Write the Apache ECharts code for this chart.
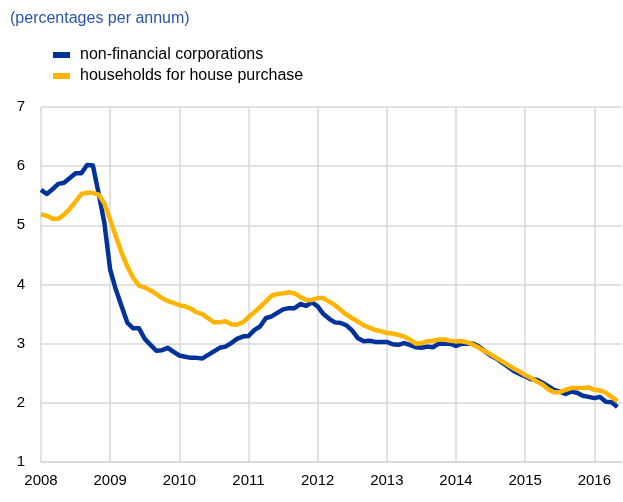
<!DOCTYPE html>
<html>
<head>
<meta charset="utf-8">
<script src="https://cdn.jsdelivr.net/npm/echarts@6/dist/echarts.min.js"></script>
<style>
  html, body { margin: 0; padding: 0; background: #fff; }
  #chart { width: 623px; height: 502px; }
</style>
</head>
<body>
<div id="chart"></div>
<script>
// monthly data, January 2008 to May 2016
var startYear = 2008;
var yTicks = [1, 2, 3, 4, 5, 6, 7];
var seriesNames = ['non-financial corporations', 'households for house purchase'];

var nfc = [
  5.60, 5.53, 5.61, 5.70, 5.72, 5.80, 5.88, 5.88, 6.02, 6.01, 5.54, 5.04,
  4.25, 3.91, 3.63, 3.35, 3.26, 3.26, 3.08, 2.98, 2.88, 2.89, 2.93, 2.86,
  2.80, 2.78, 2.76, 2.76, 2.75, 2.81, 2.87, 2.93, 2.95, 3.01, 3.08, 3.12,
  3.13, 3.23, 3.29, 3.43, 3.46, 3.52, 3.58, 3.60, 3.60, 3.67, 3.64, 3.70,
  3.63, 3.50, 3.42, 3.36, 3.35, 3.31, 3.22, 3.09, 3.04, 3.05, 3.03, 3.03,
  3.03, 2.99, 2.98, 3.01, 2.98, 2.94, 2.93, 2.95, 2.94, 3.00, 3.00, 3.00,
  2.96, 3.00, 3.00, 3.00, 2.95, 2.87, 2.80, 2.75, 2.68, 2.61, 2.54, 2.49,
  2.45, 2.40, 2.39, 2.34, 2.28, 2.22, 2.19, 2.15, 2.19, 2.17, 2.12, 2.10,
  2.08, 2.10, 2.02, 2.01, 1.93
];

var households = [
  5.19, 5.16, 5.11, 5.11, 5.18, 5.28, 5.40, 5.53, 5.55, 5.55, 5.52, 5.37,
  5.09, 4.81, 4.53, 4.30, 4.11, 3.98, 3.95, 3.90, 3.84, 3.77, 3.72, 3.69,
  3.65, 3.63, 3.59, 3.53, 3.50, 3.43, 3.36, 3.36, 3.38, 3.33, 3.32, 3.36,
  3.45, 3.53, 3.62, 3.71, 3.81, 3.84, 3.85, 3.87, 3.85, 3.79, 3.74, 3.74,
  3.77, 3.77, 3.71, 3.65, 3.57, 3.49, 3.43, 3.37, 3.31, 3.27, 3.23, 3.21,
  3.18, 3.17, 3.15, 3.12, 3.07, 3.00, 3.01, 3.04, 3.05, 3.07, 3.07, 3.05,
  3.04, 3.04, 3.02, 2.98, 2.93, 2.87, 2.82, 2.76, 2.70, 2.64, 2.58, 2.53,
  2.47, 2.42, 2.36, 2.31, 2.23, 2.18, 2.18, 2.22, 2.25, 2.25, 2.25, 2.26,
  2.22, 2.21, 2.17, 2.10, 2.03
];

function toPoints(values) {
  return values.map(function (v, i) { return [startYear + i / 12, v]; });
}

var myChart = echarts.init(document.getElementById('chart'));
var gridColor = '#d9d9d9';
var option = {
  animation: false,
  textStyle: { fontFamily: 'Liberation Sans, Arial, sans-serif' },
  title: {
    text: '(percentages per annum)',
    left: 5,
    top: 6,
    textStyle: { fontSize: 16, fontWeight: 'normal', color: '#2a55a8' }
  },
  color: ['#003299', '#ffb400'],
  legend: {
    orient: 'vertical',
    left: 48,
    top: 42,
    icon: 'rect',
    itemWidth: 17,
    itemHeight: 6,
    itemGap: 5,
    textStyle: { fontSize: 16, color: '#000', lineHeight: 16, padding: [0, 0, 0, 5] },
    data: seriesNames
  },
  grid: { left: 41, right: 1, top: 107, bottom: 40 },
  xAxis: {
    type: 'value',
    min: 2008,
    max: 2016.4,
    interval: 1,
    axisLine: { show: true, lineStyle: { color: gridColor, width: 1.5 } },
    axisTick: { show: false },
    axisLabel: {
      fontSize: 15, color: '#000', margin: 11, showMaxLabel: false,
      formatter: function (v) { return Math.round(v) === v ? String(v) : ''; }
    },
    splitLine: { show: true, showMaxLine: false, lineStyle: { color: gridColor, width: 1.5 } }
  },
  yAxis: {
    type: 'value',
    min: yTicks[0],
    max: yTicks[yTicks.length - 1],
    interval: 1,
    axisLine: { show: false },
    axisTick: { show: false },
    axisLabel: { fontSize: 15, color: '#000', margin: 16 },
    splitLine: { show: true, lineStyle: { color: gridColor, width: 1.5 } }
  },
  series: [
    {
      name: seriesNames[0],
      type: 'line',
      showSymbol: false,
      lineStyle: { width: 4.5, join: 'round' },
      data: toPoints(nfc),
      z: 2
    },
    {
      name: seriesNames[1],
      type: 'line',
      showSymbol: false,
      lineStyle: { width: 4.5, join: 'round' },
      data: toPoints(households),
      z: 3
    }
  ]
};
myChart.setOption(option);
</script>
</body>
</html>
